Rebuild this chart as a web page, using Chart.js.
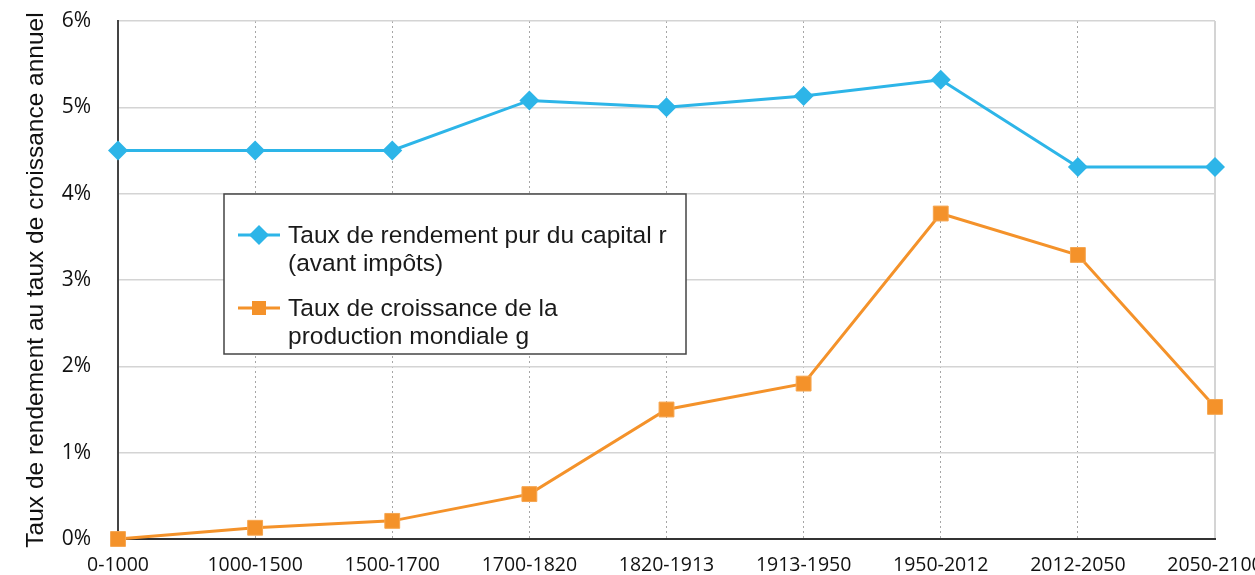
<!DOCTYPE html>
<html>
<head>
<meta charset="utf-8">
<script src="https://cdn.jsdelivr.net/npm/chart.js@4/dist/chart.umd.min.js"></script>
<style>
  html, body { margin: 0; padding: 0; background: #fff; overflow: hidden; }
  #wrap { width: 1255px; height: 575px; }
</style>
</head>
<body>
<div id="wrap"><canvas id="lineChart"></canvas></div>
<script>
// periods
const periods = ["0-1000", "1000-1500", "1500-1700", "1700-1820", "1820-1913", "1913-1950", "1950-2012", "2012-2050", "2050-2100"];
// rendement pur du capital r (%)
const capitalReturn = [4.5, 4.5, 4.5, 5.08, 5.0, 5.13, 5.32, 4.31, 4.31];
// croissance de la production mondiale g (%)
const outputGrowth = [0, 0.13, 0.21, 0.52, 1.5, 1.8, 3.77, 3.29, 1.53];
// y ticks
const yTicks = [0, 1, 2, 3, 4, 5, 6];
// legend text, split on two lines each
const legendLines = [
    ["Taux de rendement pur du capital r", "(avant impôts)"],
    ["Taux de croissance de la", "production mondiale g"]
];
const yTitle = "Taux de rendement au taux de croissance annuel";

const BLUE = "#2db5e8";
const ORANGE = "#f4922a";

// boxed legend drawn by hand (chart.js legend can't wrap labels)
const boxLegend = {
    id: "boxLegend",
    afterDatasetsDraw(chart) {
        const ctx = chart.ctx;
        const x0 = 224, y0 = 194, w = 462, h = 160;
        ctx.save();
        ctx.fillStyle = "#fff";
        ctx.fillRect(x0, y0, w, h);
        ctx.strokeStyle = "#444";
        ctx.lineWidth = 1.5;
        ctx.strokeRect(x0, y0, w, h);

        const rows = [235, 308];
        chart.data.datasets.forEach((ds, i) => {
            const y = rows[i];
            ctx.strokeStyle = ds.borderColor;
            ctx.lineWidth = 3;
            ctx.beginPath();
            ctx.moveTo(238, y);
            ctx.lineTo(280, y);
            ctx.stroke();
            ctx.fillStyle = ds.backgroundColor;
            ctx.beginPath();
            if (ds.pointStyle === "rectRot") {
                ctx.moveTo(259, y - 10);
                ctx.lineTo(269, y);
                ctx.lineTo(259, y + 10);
                ctx.lineTo(249, y);
            } else {
                ctx.rect(252, y - 7, 14, 14);
            }
            ctx.closePath();
            ctx.fill();

            ctx.fillStyle = "#1a1a1a";
            ctx.font = "24.5px 'Liberation Sans'";
            ctx.textBaseline = "alphabetic";
            legendLines[i].forEach((t, k) => ctx.fillText(t, 288, y + 8 + k * 27.5));
        });
        ctx.restore();
    }
};

new Chart(document.getElementById("lineChart"), {
    type: "line",
    data: {
        labels: periods,
        datasets: [{
            label: legendLines[0].join(" "),
            data: capitalReturn,
            borderColor: BLUE,
            backgroundColor: BLUE,
            borderWidth: 3,
            pointStyle: "rectRot",
            pointRadius: 10,
            pointHoverRadius: 10,
            pointBorderWidth: 0,
            clip: false
        }, {
            label: legendLines[1].join(" "),
            data: outputGrowth,
            borderColor: ORANGE,
            backgroundColor: ORANGE,
            borderWidth: 3,
            pointStyle: "rect",
            pointRadius: 10.5,
            pointHoverRadius: 10.5,
            pointBorderWidth: 1,
            pointBorderColor: "#f6a650",
            clip: false
        }]
    },
    options: {
        responsive: true,
        maintainAspectRatio: false,
        animation: false,
        layout: { padding: { top: 21, right: 40, left: 0, bottom: 0 } },
        plugins: {
            legend: { display: false },
            tooltip: { enabled: false }
        },
        scales: {
            x: {
                offset: false,
                grid: {
                    color: c => c.index === periods.length - 1 ? "#d4d4d4" : "#a6a6a6",
                    lineWidth: c => c.index === periods.length - 1 ? 2 : 1,
                    drawTicks: false
                },
                border: {
                    color: "#333",
                    width: 2,
                    dash: c => c.index === periods.length - 1 ? [] : [2, 3]
                },
                ticks: {
                    color: "#111",
                    font: { family: "'Open Sans'", size: 19.5 },
                    padding: 15,
                    maxRotation: 0,
                    autoSkip: false
                },
                afterFit: s => { s.height = 36; s.paddingLeft = 0; s.paddingRight = 0; }
            },
            y: {
                min: 0,
                max: 6,
                afterBuildTicks: s => { s.ticks = yTicks.map(v => ({ value: v })); },
                grid: { color: "#d4d4d4", lineWidth: 1.5, drawTicks: false },
                border: { color: "#444", width: 2 },
                ticks: {
                    color: "#111",
                    font: { family: "'Open Sans'", size: 21 },
                    padding: 27,
                    callback: v => v + "%"
                },
                title: {
                    display: true,
                    text: yTitle,
                    color: "#111",
                    font: { family: "'Liberation Sans'", size: 24.5 },
                    padding: { top: 22, bottom: 0 }
                },
                afterFit: s => { s.width = 118; s.paddingTop = 0; s.paddingBottom = 0; }
            }
        }
    },
    plugins: [boxLegend]
});
</script>
</body>
</html>
